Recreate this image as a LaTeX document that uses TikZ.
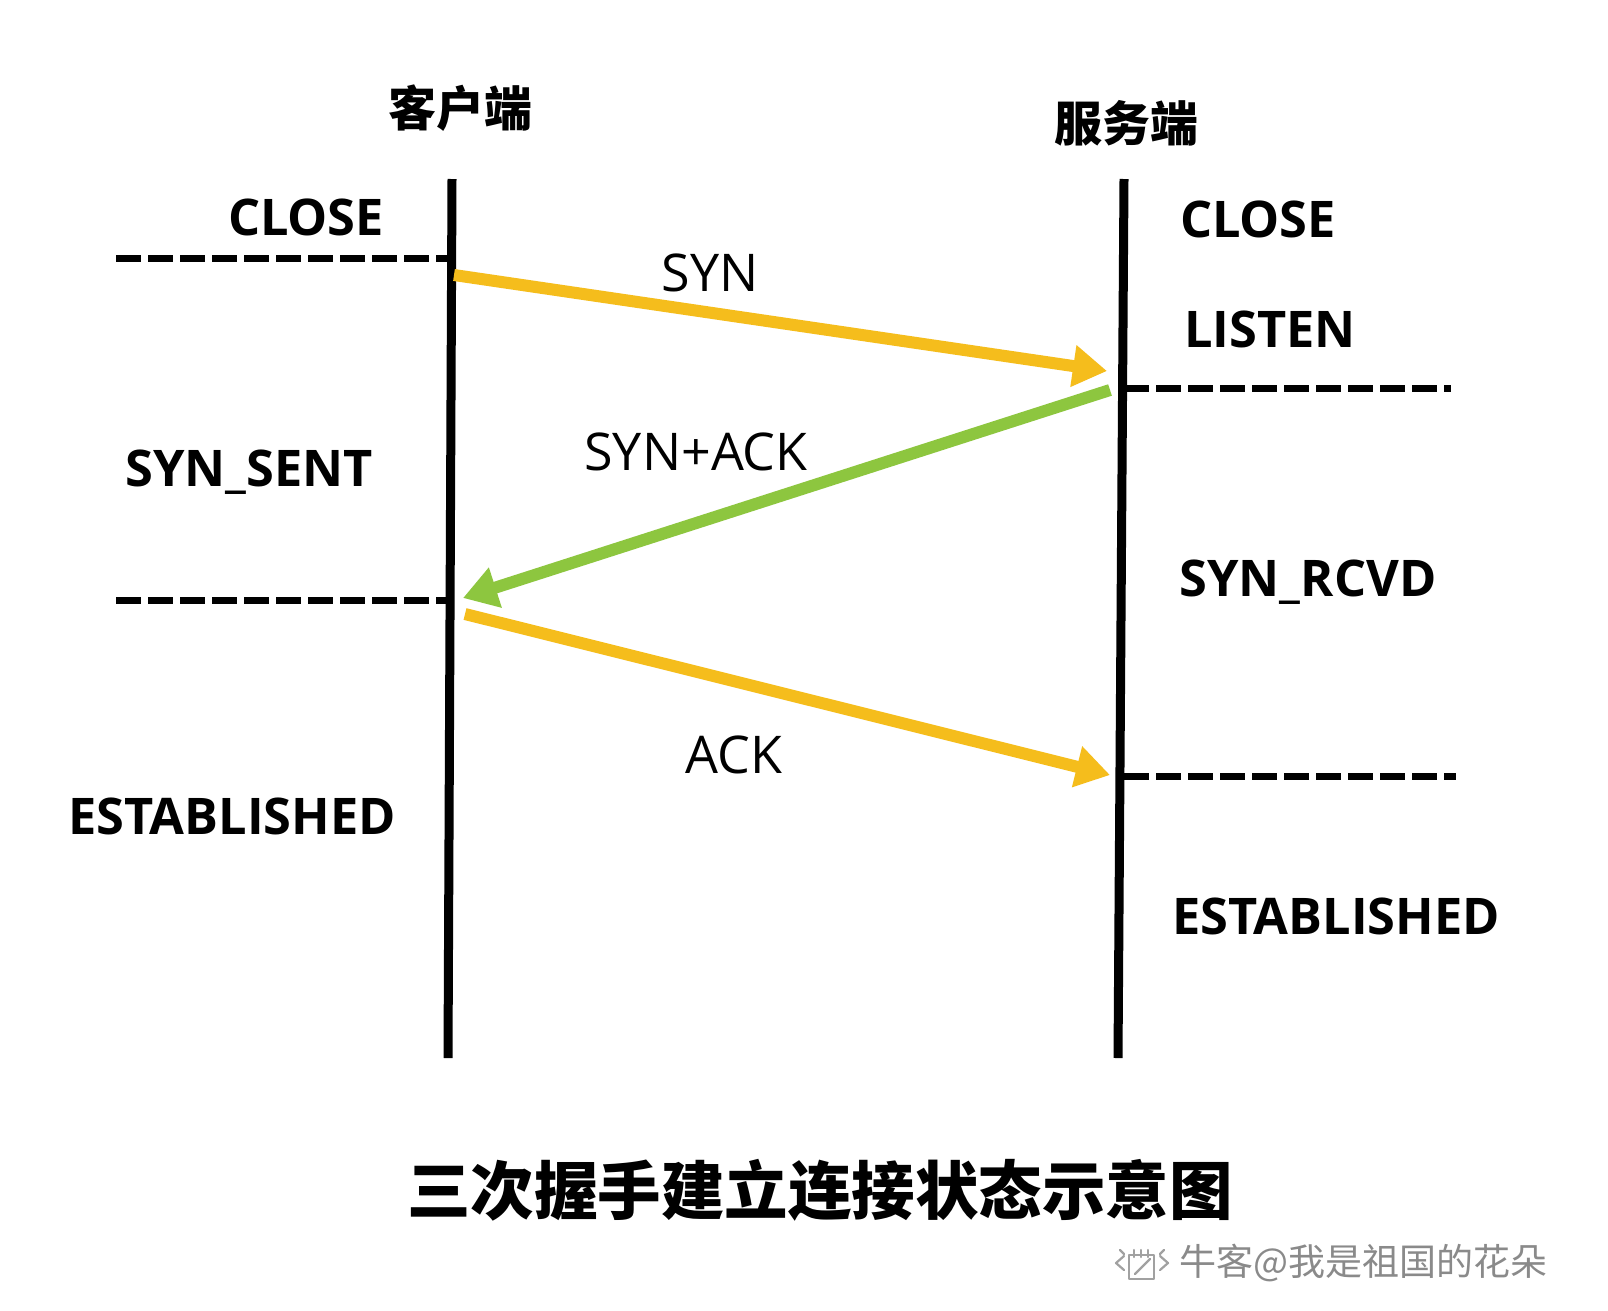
\documentclass[tikz,border=0pt]{standalone}
\usepackage{fontspec}
\setmainfont{Open Sans}
\newfontfamily\cjk{Noto Sans CJK SC}
\usetikzlibrary{arrows.meta}
\definecolor{ygold}{HTML}{F5BD1C}
\definecolor{ggreen}{HTML}{8DC63F}
\definecolor{wmgray}{HTML}{8A8A8A}
\begin{document}
\begin{tikzpicture}[x=1pt,y=-1pt,
  state/.style={anchor=base,inner sep=0pt,font=\fontsize{50.5}{54}\selectfont\bfseries},
  msg/.style={anchor=base,inner sep=0pt,font=\fontsize{52}{56}\selectfont},
  head/.style={inner sep=0pt,font=\fontsize{48}{52}\selectfont\cjk\bfseries},
  lifeline/.style={line width=9pt},
  statesep/.style={line width=7pt,dash pattern=on 25pt off 7pt},
  msgarrow/.style={line width=12pt,-{Triangle[length=34pt,width=40pt]}},
  iconline/.style={draw=wmgray!80,line width=2.2pt,line join=round,line cap=round}]
\useasboundingbox[fill=white] (0,0) rectangle (1608,1310);
% lifelines
\coordinate (ctop) at (452,179);
\coordinate (cbot) at (448,1058);
\coordinate (stop) at (1124,179);
\coordinate (sbot) at (1118,1058);
\draw[lifeline] (ctop) -- (cbot);
\draw[lifeline] (stop) -- (sbot);
% headers
\node[head] (client) at (460,108) {客户端};
\node[head] (server) at (1126,123) {服务端};
% dashed state separators
\coordinate (cd1a) at (116,258); \coordinate (cd1b) at (448,258);
\coordinate (cd2a) at (116,600); \coordinate (cd2b) at (448,600);
\coordinate (sd1a) at (1124,388); \coordinate (sd1b) at (1451,388);
\coordinate (sd2a) at (1124,776); \coordinate (sd2b) at (1456,776);
\draw[statesep] (cd1a) -- (cd1b);
\draw[statesep] (cd2a) -- (cd2b);
\draw[statesep] (sd1a) -- (sd1b);
\draw[statesep] (sd2a) -- (sd2b);
% states
\node[state] (cclose) at (306,235) {CLOSE};
\node[state] (csent) at (249,486) {SYN\_SENT};
\node[state] (cest) at (232,834) {ESTABLISHED};
\node[state] (sclose) at (1258,237) {CLOSE};
\node[state] (slisten) at (1270,347) {LISTEN};
\node[state] (srcvd) at (1308,596) {SYN\_RCVD};
\node[state] (sest) at (1336,934) {ESTABLISHED};
% messages
\coordinate (syn0) at (454,275); \coordinate (syn1) at (1107,371);
\coordinate (sa0) at (1110,390); \coordinate (sa1) at (463,598);
\coordinate (ack0) at (465,614); \coordinate (ack1) at (1110,775);
\draw[msgarrow,ygold] (syn0) -- (syn1);
\draw[msgarrow,ggreen] (sa0) -- (sa1);
\draw[msgarrow,ygold] (ack0) -- (ack1);
\node[msg] (synl) at (710,291) {SYN};
\node[msg] (sal) at (696,470) {SYN+ACK};
\node[msg] (ackl) at (734,773) {ACK};
% title and watermark
\node[inner sep=0pt,font=\fontsize{63.5}{68}\selectfont\cjk\bfseries] (title) at (820,1190) {三次握手建立连接状态示意图};
\node[inner sep=0pt,text=wmgray,font=\fontsize{37}{40}\selectfont\cjk] (wm) at (1363,1263) {牛客@我是祖国的花朵};
% watermark icon (notepad with pen)
\draw[iconline] (1129,1255) rectangle (1154,1279);
\draw[iconline] (1134,1250) -- (1134,1257) (1141,1250) -- (1141,1257) (1148,1250) -- (1148,1257);
\draw[iconline] (1135,1274) -- (1150,1259);
\draw[iconline] (1124,1256) -- (1116,1263) -- (1124,1270);
\draw[iconline] (1160,1256) -- (1168,1263) -- (1160,1270);
\draw[iconline] (1120,1250) -- (1124,1254) (1164,1250) -- (1160,1254);
\end{tikzpicture}
\end{document}
